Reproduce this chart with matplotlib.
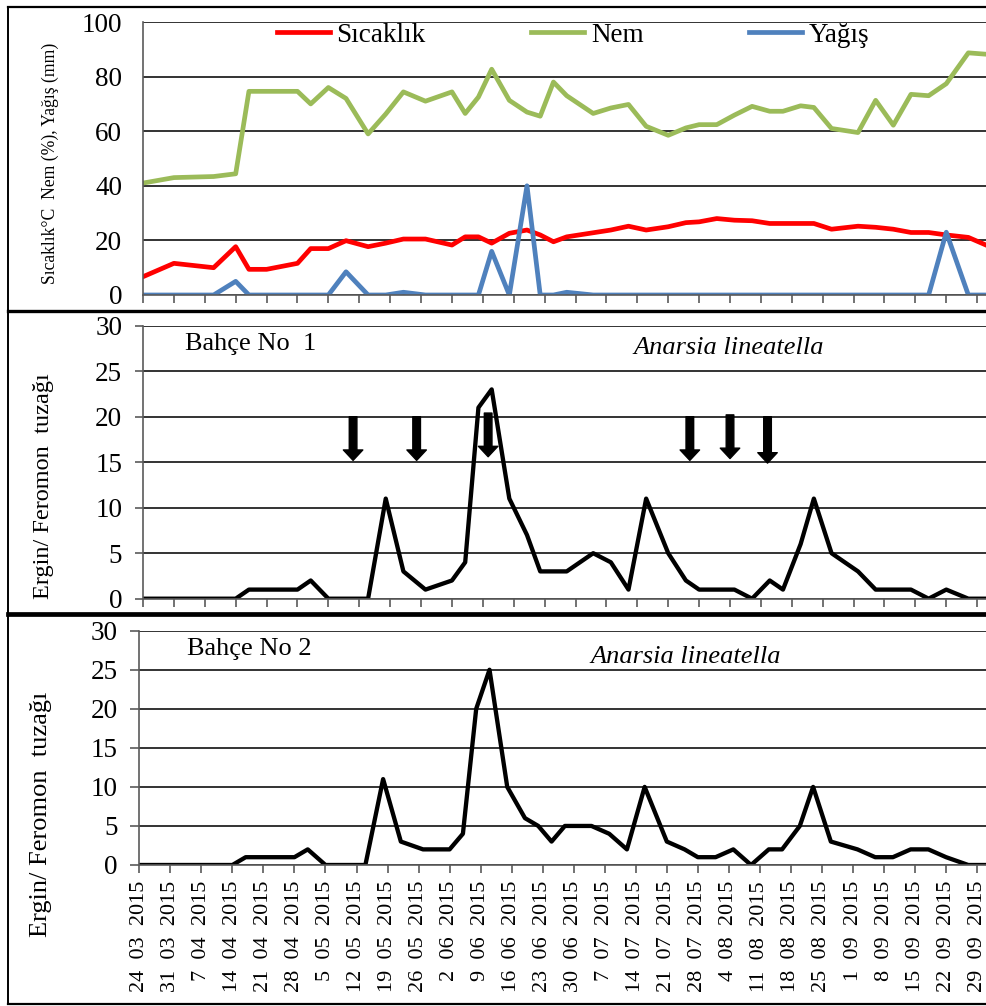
import matplotlib
matplotlib.use('Agg')
from matplotlib import pyplot as plt
from matplotlib.lines import Line2D

plt.rcParams['font.family'] = ['Liberation Serif', 'DejaVu Serif']

# sampling days, counted from 24 03 2015
days = [0, 7, 16, 21, 24, 28, 35, 38, 42, 46, 51, 55, 59, 64, 70, 73, 76, 79, 83, 87,
        90, 93, 96, 102, 106, 110, 114, 119, 123, 126, 130, 134, 138, 142, 145, 149, 152, 156, 162, 166,
        170, 174, 178, 182, 187, 191]

sicaklik = [6.7, 11.6, 10, 17.7, 9.4, 9.4, 11.6, 17, 17, 19.9, 17.7, 19, 20.5, 20.5, 18.3, 21.3, 21.3, 19, 22.6, 23.8,
            22, 19.5, 21.3, 22.8, 23.8, 25.2, 23.8, 25, 26.5, 26.8, 28, 27.4, 27.2, 26.2, 26.2, 26.2, 26.2, 24.1, 25.2, 24.8,
            24.1, 22.9, 22.9, 22, 21.1, 18.3]
nem = [41, 43, 43.4, 44.4, 74.6, 74.6, 74.6, 70, 76, 72, 59, 66.3, 74.4, 71, 74.4, 66.5, 72.5, 82.7, 71.3, 67,
       65.5, 78, 73, 66.5, 68.5, 69.8, 61.8, 58.5, 61.2, 62.4, 62.4, 65.9, 69.1, 67.3, 67.3, 69.3, 68.7, 61, 59.5, 71.3,
       62.2, 73.5, 73, 77.4, 88.7, 88.2]
yagis = [0, 0, 0, 5, 0, 0, 0, 0, 0, 8.5, 0, 0, 1, 0, 0, 0, 0, 16, 0, 40,
         0, 0, 1, 0, 0, 0, 0, 0, 0, 0, 0, 0, 0, 0, 0, 0, 0, 0, 0, 0,
         0, 0, 0, 23, 0, 0]

bahce1 = [0, 0, 0, 0, 1, 1, 1, 2, 0, 0, 0, 11, 3, 1, 2, 4, 21, 23, 11, 7,
          3, 3, 3, 5, 4, 1, 11, 5, 2, 1, 1, 1, 0, 2, 1, 6, 11, 5, 3, 1,
          1, 1, 0, 1, 0, 0]
bahce2 = [0, 0, 0, 0, 1, 1, 1, 2, 0, 0, 0, 11, 3, 2, 2, 4, 20, 25, 10, 6,
          5, 3, 5, 5, 4, 2, 10, 3, 2, 1, 1, 2, 0, 2, 2, 5, 10, 3, 2, 1,
          1, 2, 2, 1, 0, 0]

# spraying dates (arrows) in garden 1
arrow_days = [47.6, 62, 78.2, 123.9, 133, 141.5]
arrow_top = [20, 20, 20.4, 20, 20.2, 20]
arrow_tip = [15.2, 15.2, 15.6, 15.2, 15.4, 14.9]

tick_labels = ['24  03  2015', '31  03  2015', '7  04  2015', '14  04  2015', '21  04  2015', '28  04  2015',
               '5  05  2015', '12  05  2015', '19  05  2015', '26  05  2015', '2  06  2015', '9  06  2015',
               '16  06  2015', '23  06  2015', '30  06  2015', '7  07  2015', '14  07  2015', '21  07  2015',
               '28  07  2015', '4  08  2015', '11  08  2015', '18  08  2015', '25  08  2015', '1  09  2015',
               '8  09  2015', '15  09  2015', '22  09  2015', '29  09  2015']
tick_days = [7 * i for i in range(len(tick_labels))]

W, H = 986, 1006
fig = plt.figure(figsize=(W / 100, H / 100), dpi=100)


def axes_px(left, top, right, bottom):
    return fig.add_axes([left / W, 1 - bottom / H, (right - left) / W, (bottom - top) / H])


ax1 = axes_px(143, 22, 986, 295)
ax2 = axes_px(143, 325.7, 986, 598.7)
ax3 = axes_px(139.3, 630.7, 986, 865)

grid_col = '#333333'
spine_col = '#5a5a5a'

for ax in (ax1, ax2, ax3):
    ax.set_xlim(0, 191)
    ax.set_xticks(tick_days)
    ax.set_axisbelow(True)
    ax.yaxis.grid(True, color=grid_col, lw=1.4)
    ax.spines['top'].set_visible(False)
    ax.spines['right'].set_visible(False)
    ax.spines['left'].set_color(spine_col)
    ax.spines['bottom'].set_color(spine_col)
    ax.spines['left'].set_linewidth(1.2)
    ax.spines['bottom'].set_linewidth(1.2)
    ax.tick_params(axis='x', direction='out', length=6, width=1.2, color=spine_col)
    ax.tick_params(axis='y', labelsize=19.5, colors='black')

# top panel: weather
ax1.plot(days, sicaklik, color='#ff0000', lw=3.4, label='Sıcaklık', solid_joinstyle='round')
ax1.plot(days, nem, color='#9bbb59', lw=3.4, label='Nem', solid_joinstyle='round')
ax1.plot(days, yagis, color='#4f81bd', lw=3.4, label='Yağış', solid_joinstyle='round')
ax1.set_ylim(0, 100)
ax1.set_yticks([0, 20, 40, 60, 80, 100])
ax1.tick_params(axis='y', length=0, pad=15)
ax1.tick_params(axis='x', labelbottom=False)
ax1.legend(ncol=3, loc='center left', bbox_to_anchor=(0.159, 0.952), frameon=False, fontsize=19.5,
           handlelength=1.95, handletextpad=0.25, columnspacing=3.9, borderpad=0, borderaxespad=0)
ax1.text(-0.110, 0.483, 'Sıcaklık°C  Nem (%), Yağış (mm)', transform=ax1.transAxes,
         rotation=90, ha='center', va='center', fontsize=12.7)

# middle panel: garden 1
ax2.plot(days, bahce1, color='black', lw=3.1, solid_joinstyle='round')
for d, t0, t1 in zip(arrow_days, arrow_top, arrow_tip):
    ax2.annotate('', xy=(d, t1), xytext=(d, t0),
                 arrowprops=dict(facecolor='black', edgecolor='black', width=5.5, headwidth=14,
                                 headlength=7.5, shrink=0))
ax2.set_ylim(0, 30)
ax2.set_yticks(range(0, 31, 5))
ax2.tick_params(axis='y', direction='out', length=6, width=1.2, color=spine_col, pad=9)
ax2.tick_params(axis='x', labelbottom=False)
ax2.text(0.05, 0.933, 'Bahçe No  1', transform=ax2.transAxes, ha='left', va='center', fontsize=19)
ax2.text(0.695, 0.918, 'Anarsia lineatella', transform=ax2.transAxes, ha='center', va='center',
         fontsize=19, style='italic')
ax2.text(-0.1186, 0.413, 'Ergin/ Feromon  tuzağı', transform=ax2.transAxes,
         rotation=90, ha='center', va='center', fontsize=17.5)

# bottom panel: garden 2
ax3.plot(days, bahce2, color='black', lw=3.1, solid_joinstyle='round')
ax3.set_ylim(0, 30)
ax3.set_yticks(range(0, 31, 5))
ax3.tick_params(axis='y', direction='out', length=6.5, width=1.2, color=spine_col, pad=9)
ax3.set_xticklabels(tick_labels, rotation=90, fontsize=16)
ax3.tick_params(axis='x', length=6, pad=5.5)
ax3.text(0.056, 0.924, 'Bahçe No 2', transform=ax3.transAxes, ha='left', va='center', fontsize=19)
ax3.text(0.645, 0.888, 'Anarsia lineatella', transform=ax3.transAxes, ha='center', va='center',
         fontsize=19, style='italic')
ax3.text(-0.116, 0.218, 'Ergin/ Feromon  tuzağı', transform=ax3.transAxes,
         rotation=90, ha='center', va='center', fontsize=19)

# panel frames
def fy(py):
    return 1 - py / H


fig.add_artist(Line2D([8 / W, 8 / W], [fy(7), fy(1004)], color='black', lw=1.4))
fig.add_artist(Line2D([8 / W, 1], [fy(7), fy(7)], color='black', lw=1.6))
fig.add_artist(Line2D([8 / W, 1], [fy(1004), fy(1004)], color='black', lw=1.6))
fig.add_artist(Line2D([8 / W, 1], [fy(311), fy(311)], color='black', lw=2.4))
fig.add_artist(Line2D([8 / W, 1], [fy(614), fy(614)], color='black', lw=3.4))

fig.savefig('out.png', dpi=100, facecolor='white')
